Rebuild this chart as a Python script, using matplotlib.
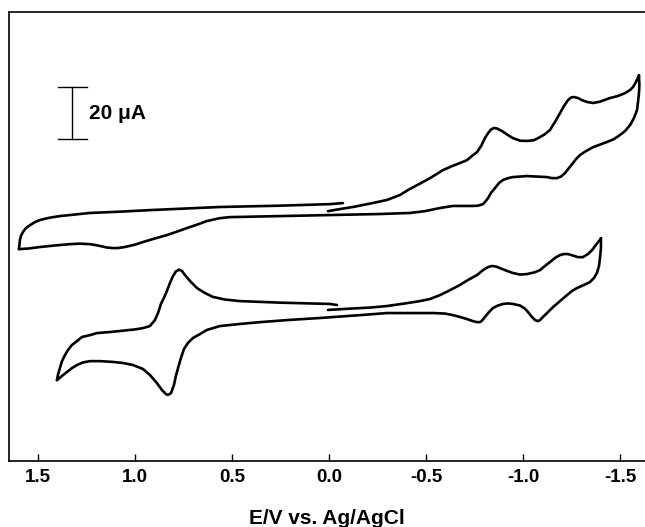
import matplotlib.pyplot as plt

plt.rcParams['font.family'] = ['Liberation Sans', 'DejaVu Sans']
plt.rcParams['font.weight'] = 'bold'

# upper voltammogram, scan 0 V -> -1.6 V -> +1.6 V -> 0 V
# potential in V vs Ag/AgCl, current in uA (traces offset for stacking)
top_fwd_E = [0.005, -0.057, -0.124, -0.211, -0.299, -0.366, -0.407, -0.454,
             -0.521, -0.588, -0.634, -0.675, -0.711, -0.737, -0.763, -0.784,
             -0.804, -0.820, -0.835, -0.851, -0.866, -0.892, -0.918, -0.948,
             -0.985, -1.021, -1.057, -1.088, -1.113, -1.139, -1.165, -1.191,
             -1.211, -1.232, -1.247, -1.263, -1.284, -1.304, -1.330, -1.361,
             -1.397, -1.448, -1.490, -1.526, -1.552, -1.567, -1.582, -1.598]
top_fwd_I = [99.2, 100.0, 100.8, 102.1, 103.5, 105.4, 107.3, 109.2,
             111.9, 115.0, 116.5, 117.7, 118.8, 120.4, 121.9, 124.2,
             127.3, 129.2, 130.6, 131.2, 131.0, 130.0, 128.7, 127.3,
             126.3, 126.2, 126.5, 127.7, 128.8, 130.4, 133.5, 136.9,
             139.6, 141.9, 142.9, 143.1, 142.7, 141.9, 141.2, 140.8,
             141.3, 142.7, 143.5, 144.6, 145.8, 146.9, 148.8, 151.5]

top_rev_E = [-1.598, -1.600, -1.598, -1.593, -1.588, -1.572, -1.552, -1.526,
             -1.500, -1.469, -1.433, -1.397, -1.361, -1.325, -1.294, -1.273,
             -1.258, -1.237, -1.216, -1.196, -1.175, -1.149, -1.124, -1.072,
             -1.021, -0.985, -0.948, -0.923, -0.897, -0.876, -0.856, -0.835,
             -0.820, -0.804, -0.794, -0.768, -0.742, -0.691, -0.639, -0.572,
             -0.495, -0.418, -0.263, -0.005, 0.253, 0.510, 0.562, 0.629,
             0.680, 0.732, 0.784, 0.835, 0.897, 0.959, 1.005, 1.052,
             1.088, 1.113, 1.144, 1.180, 1.206, 1.232, 1.284, 1.335,
             1.412, 1.490, 1.552, 1.598]
top_rev_I = [151.5, 147.7, 144.6, 141.2, 138.1, 135.0, 132.3, 130.0,
             128.5, 126.9, 125.8, 124.8, 123.8, 122.3, 120.8, 119.2,
             117.7, 115.8, 113.8, 112.5, 111.9, 111.9, 112.3, 112.5,
             112.7, 112.5, 112.3, 111.9, 111.2, 110.0, 108.1, 106.2,
             104.2, 102.7, 101.9, 101.3, 101.2, 101.2, 101.2, 100.4,
             99.2, 98.5, 98.1, 97.7, 97.3, 96.9, 96.5, 95.4,
             94.0, 92.7, 91.3, 90.0, 88.7, 87.3, 86.2, 85.4,
             85.0, 85.0, 85.2, 85.8, 86.2, 86.5, 86.7, 86.5,
             86.0, 85.4, 84.8, 84.6]

top_end_E = [1.598, 1.595, 1.593, 1.588, 1.577, 1.562, 1.541, 1.515,
             1.490, 1.438, 1.387, 1.309, 1.232, 1.077, 0.923, 0.742,
             0.562, 0.253, -0.005, -0.072]
top_end_I = [84.6, 86.5, 88.1, 89.6, 91.2, 92.7, 93.8, 95.0,
             95.8, 96.7, 97.3, 97.9, 98.5, 99.0, 99.6, 100.2,
             100.8, 101.3, 101.9, 102.3]

# lower voltammogram, scan 0 V -> -1.4 V -> +1.4 V -> 0 V
bot_fwd_E = [0.005, -0.108, -0.211, -0.299, -0.392, -0.469, -0.521, -0.572,
             -0.624, -0.675, -0.716, -0.763, -0.794, -0.820, -0.840, -0.861,
             -0.881, -0.918, -0.948, -0.985, -1.021, -1.057, -1.088, -1.113,
             -1.139, -1.165, -1.191, -1.211, -1.232, -1.258, -1.284, -1.309,
             -1.335, -1.356, -1.376, -1.392, -1.402]
bot_fwd_I = [61.2, 61.7, 62.1, 62.7, 63.7, 64.6, 65.4, 66.9,
             68.8, 70.8, 72.7, 74.6, 76.5, 77.7, 78.1, 77.9,
             77.3, 76.2, 75.4, 74.8, 75.0, 75.6, 76.5, 78.1,
             79.6, 81.2, 82.3, 82.7, 82.7, 82.1, 81.5, 81.5,
             82.7, 84.2, 86.2, 87.7, 88.8]

bot_rev_E = [-1.402, -1.402, -1.397, -1.392, -1.381, -1.366, -1.345, -1.314,
             -1.278, -1.253, -1.227, -1.191, -1.155, -1.124, -1.103, -1.088,
             -1.077, -1.062, -1.046, -1.026, -1.010, -0.985, -0.948, -0.923,
             -0.897, -0.871, -0.845, -0.825, -0.804, -0.789, -0.778, -0.763,
             -0.742, -0.711, -0.675, -0.639, -0.598, -0.536, -0.418, -0.299,
             -0.160, 0.046, 0.216, 0.356, 0.459, 0.562, 0.629, 0.665,
             0.701, 0.727, 0.747, 0.763, 0.778, 0.789, 0.799, 0.814,
             0.830, 0.840, 0.861, 0.887, 0.923, 0.959, 1.010, 1.062,
             1.113, 1.180, 1.232, 1.268, 1.299, 1.325, 1.351, 1.376,
             1.402]
bot_rev_I = [88.8, 85.0, 81.2, 78.1, 75.4, 73.5, 71.9, 70.8,
             69.6, 68.5, 66.9, 64.6, 62.3, 60.0, 58.5, 57.3,
             56.9, 57.3, 58.5, 60.4, 61.7, 62.9, 63.5, 63.7,
             63.5, 62.9, 61.9, 60.4, 58.5, 57.1, 56.5, 56.5,
             56.9, 57.7, 58.5, 59.2, 59.8, 60.0, 60.0, 60.0,
             59.2, 58.1, 57.3, 56.5, 55.8, 55.0, 53.5, 51.9,
             50.4, 48.5, 46.2, 42.7, 38.8, 35.8, 32.3, 29.2,
             28.5, 28.8, 30.4, 33.1, 36.2, 38.5, 40.0, 40.8,
             41.2, 41.5, 41.5, 41.0, 40.0, 38.8, 37.3, 35.8,
             34.2]

bot_end_E = [1.402, 1.397, 1.387, 1.376, 1.361, 1.345, 1.325, 1.299,
             1.273, 1.232, 1.196, 1.129, 1.077, 1.000, 0.959, 0.923,
             0.897, 0.881, 0.866, 0.851, 0.835, 0.820, 0.804, 0.789,
             0.773, 0.758, 0.742, 0.716, 0.680, 0.639, 0.598, 0.536,
             0.459, 0.253, -0.005, -0.041]
bot_end_I = [34.2, 36.2, 38.8, 41.5, 43.8, 45.8, 47.7, 49.2,
             50.8, 51.5, 52.3, 52.7, 53.1, 53.7, 54.2, 55.0,
             57.3, 60.0, 63.5, 65.8, 68.5, 71.5, 74.2, 76.0,
             76.7, 76.2, 74.6, 72.3, 69.6, 67.7, 66.2, 65.2,
             64.6, 64.0, 63.5, 63.1]

scale_uA = 20
xticks = [1.5, 1.0, 0.5, 0.0, -0.5, -1.0, -1.5]

fig = plt.figure(figsize=(6.45, 5.27), dpi=100)
ax = fig.add_axes([0.014, 0.1252, 0.986, 0.852])

line_kw = dict(color='black', lw=1.9, solid_joinstyle='round',
               solid_capstyle='round')
for E, I in [(top_fwd_E, top_fwd_I), (top_rev_E, top_rev_I),
             (top_end_E, top_end_I), (bot_fwd_E, bot_fwd_I),
             (bot_rev_E, bot_rev_I), (bot_end_E, bot_end_I)]:
    ax.plot(E, I, **line_kw)

# current scale bar
bar_x, bar_lo = 1.325, 126.9
ax.plot([bar_x, bar_x], [bar_lo, bar_lo + scale_uA], color='black', lw=1.0)
for yy in (bar_lo, bar_lo + scale_uA):
    ax.plot([1.397, 1.247], [yy, yy], color='black', lw=1.0)
ax.text(1.237, bar_lo + scale_uA / 2, '%d \u03bcA' % scale_uA,
        fontsize=15, fontweight='bold', va='center', ha='left')

ax.set_xlim(1.649, -1.629)
ax.set_ylim(3.08, 175.8)
ax.set_xticks(xticks)
ax.set_xticklabels(['%.1f' % t for t in xticks], fontsize=13.5,
                   fontweight='bold')
ax.set_yticks([])
ax.tick_params(axis='x', direction='in', length=5, width=1.0, pad=5.5)
ax.spines['right'].set_visible(False)
for s in ('left', 'top', 'bottom'):
    ax.spines[s].set_linewidth(1.2)
ax.set_xlabel('E/V vs. Ag/AgCl', fontsize=15, fontweight='bold', labelpad=17)

fig.savefig('out.png', dpi=100)
